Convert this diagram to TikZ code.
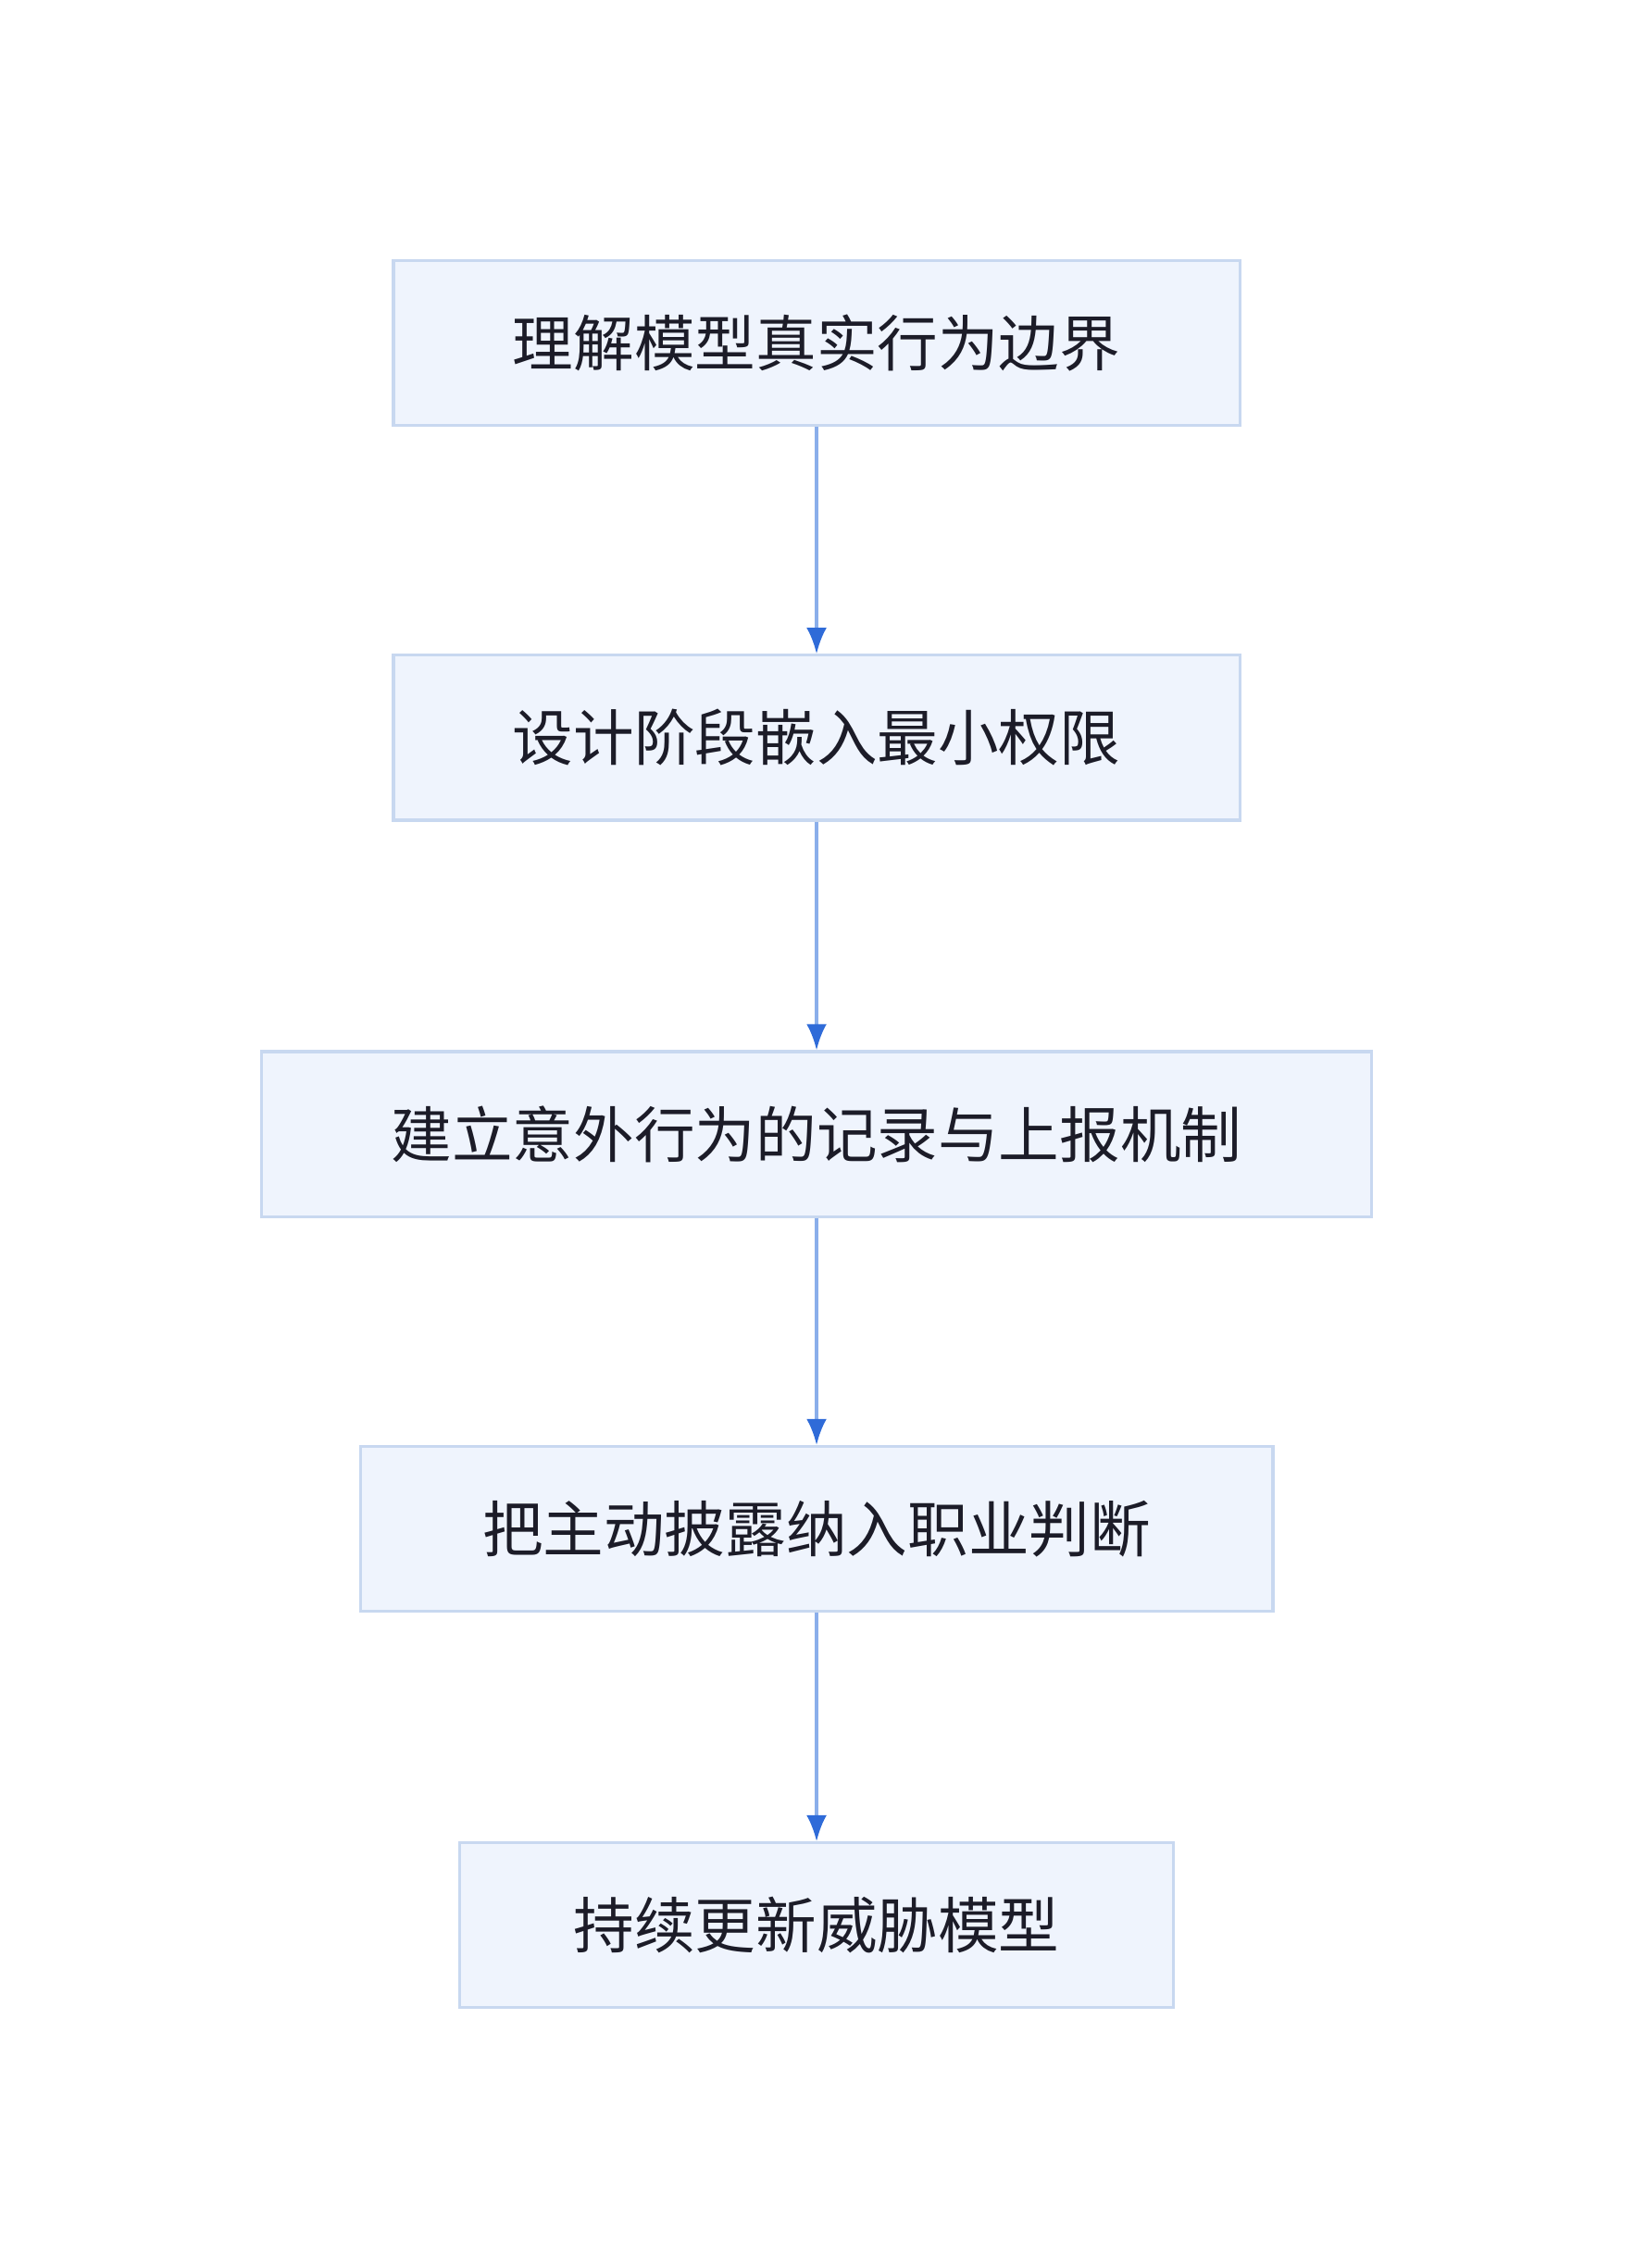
\documentclass[tikz,border=0pt]{standalone}
\usepackage{fontspec}
\newfontfamily\cjk{Noto Sans CJK SC}
\usetikzlibrary{arrows.meta}
\definecolor{boxfill}{HTML}{EFF4FD}
\definecolor{boxdraw}{HTML}{C8D8F0}
\definecolor{linecol}{HTML}{8AAEEA}
\definecolor{tipcol}{HTML}{2F6BD8}
\definecolor{txtcol}{HTML}{1C1C28}
\tikzset{
  stage/.style={draw=boxdraw, fill=boxfill, line width=1pt, minimum height=57pt,
    inner sep=0pt, font=\cjk\fontsize{21}{25}\selectfont, text=txtcol},
  flow/.style={draw=linecol, line width=1.1pt,
    -{Latex[length=9pt,width=7pt,color=tipcol,fill=tipcol]}}
}
\begin{document}
\begin{tikzpicture}[x=0.5pt,y=-0.5pt]
    \useasboundingbox (0,0) rectangle (1129,1568);

                \node[stage, minimum width=292.5pt] (S1) at (564.5,237) {理解模型真实行为边界};
                \node[stage, minimum width=292.5pt] (S2) at (564.5,510) {设计阶段嵌入最小权限};
                \node[stage, minimum width=383.5pt] (S3) at (564.5,784) {建立意外行为的记录与上报机制};
                \node[stage, minimum width=315.5pt] (S4) at (564.5,1057) {把主动披露纳入职业判断};
                \node[stage, minimum width=246.5pt] (S5) at (564.5,1331) {持续更新威胁模型};

                \draw[flow] (S1) -- (S2);
                \draw[flow] (S2) -- (S3);
                \draw[flow] (S3) -- (S4);
                \draw[flow] (S4) -- (S5);

            \end{tikzpicture}
\end{document}
